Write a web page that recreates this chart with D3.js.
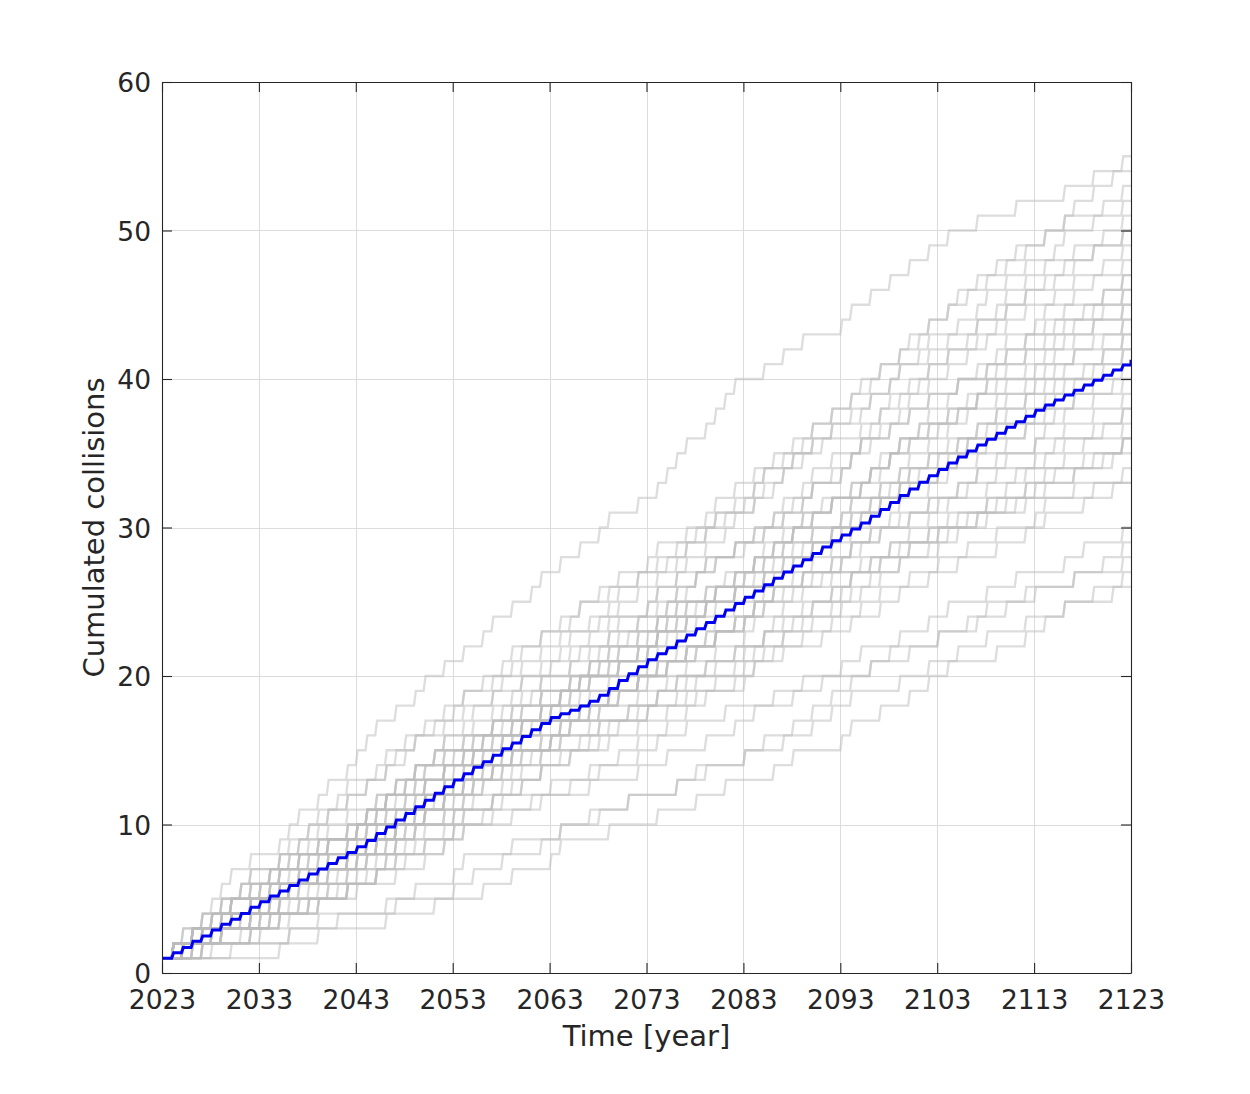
<!DOCTYPE html>
<html>
<head>
<meta charset="utf-8">
<script src="https://cdn.jsdelivr.net/npm/d3@7"></script>
<style>
  html, body { margin: 0; padding: 0; background: #ffffff; }
  svg { display: block; }
</style>
</head>
<body>
<svg id="chart" width="1250" height="1094"></svg>
<script>
// ---------------- DATA ----------------
const firstYear = 2023;
const lastYear = 2123;
const startCount = 1;
const xTickYears = [2023, 2033, 2043, 2053, 2063, 2073, 2083, 2093, 2103, 2113, 2123];
const yTickValues = [0, 10, 20, 30, 40, 50, 60];
const xLabel = "Time [year]";
const yLabel = "Cumulated collisions";

// Mean cumulated collisions, one value per year 2023..2123 (blue line)
const meanCollisions = [
  1.00, 1.36, 1.71, 2.13, 2.49, 2.90, 3.28, 3.62, 4.01, 4.42,
  4.80, 5.18, 5.52, 5.90, 6.27, 6.66, 7.00, 7.38, 7.76, 8.11,
  8.50, 8.92, 9.40, 9.83, 10.30, 10.74, 11.20, 11.63, 12.10, 12.55,
  13.00, 13.41, 13.85, 14.22, 14.66, 15.10, 15.48, 15.93, 16.38, 16.80,
  17.20, 17.45, 17.70, 17.98, 18.30, 18.70, 19.15, 19.70, 20.15, 20.62,
  21.10, 21.50, 21.90, 22.35, 22.76, 23.18, 23.60, 24.02, 24.45, 24.88,
  25.30, 25.72, 26.15, 26.58, 27.00, 27.40, 27.82, 28.25, 28.68, 29.10,
  29.50, 29.90, 30.30, 30.75, 31.22, 31.68, 32.15, 32.60, 33.05, 33.48,
  33.90, 34.35, 34.75, 35.15, 35.55, 35.95, 36.35, 36.75, 37.12, 37.50,
  37.90, 38.25, 38.58, 38.92, 39.25, 39.60, 39.92, 40.25, 40.60, 40.95,
  41.30
];

// Monte Carlo trials: collisions recorded in each year 2024..2123 (one char per year)
const trialHitsPerYear = [
  "1101111010 0111011011 1101011010 1011010110 1010110010 1111011110 0101010001 1010101010 1001000100 0010010010",
  "1100101010 1101011010 1011010110 1010110010 0110101001 1001011010 1010101010 1101011010 1100101010 1011010100",
  "0100101010 0101101010 0110110110 1101101010 1001011010 1010101010 1101011010 1011010110 1011010100 1010001010",
  "1011010110 0110110110 0110101001 1001011010 1010010010 0101011001 1100101010 0110110110 0101101010 0110010010",
  "0010100001 0110101001 1001011010 0111010110 0101011001 1011010110 1011010100 0101101010 1011011010 1001001010",
  "0110101001 0101010001 0111010110 0101011001 1100101010 1011010100 1101101010 1010110010 1001001010 0101010010",
  "1000010010 1010010010 0101011001 1100101010 1011010100 1101101010 1011011010 0111010110 1001011010 1010010010",
  "1010010010 0101011001 1100101010 0100101010 0101101010 1010110010 0110101001 1101011010 1010101010 0101001010",
  "0101011001 1001010010 1011010100 0101101010 0110010010 0110101001 1001011010 1010101010 0101011001 1001010010",
  "0010010001 0100101010 0101101010 1010110010 1001001010 1001011010 1010101010 0110110110 1100101010 0100101010",
  "0110110110 0101101010 1010110010 1001001010 0101010001 1010010010 0101011001 1100101010 0100101010 1010001010",
  "1010001001 0110010010 0110101001 0101010001 1010101010 0101001001 1100101010 1011010100 0101101010 0110010010",
  "0100000010 1001001010 1001011010 1010101010 0101011001 1100101010 1011010100 0101101010 1010110010 1001001010",
  "1001001010 1000010010 1010101010 0101011001 1001010010 1011010100 0101101010 1010110010 1001001010 0101010010",
  "1001011010 1010101010 0101001001 1001010010 0100101010 1010001001 1010110010 0110101001 0101010001 1010010010",
  "0100100010 0101001001 1100101010 0100101010 1010001001 1010110010 0110101001 1001011010 1010010010 0101001010",
  "0101001001 1100101010 0100101010 1010001001 0110010010 1001001010 0101010001 1010101010 0101011001 1001010010",
  "0001000010 0100010010 0101101010 1010110010 1001001010 1001011010 1010101010 0101011001 1001010010 0100101010",
  "1011010100 1010001001 1010110010 1001001010 0101010001 1010010010 0101001001 1001010010 0100101010 1010001010",
  "1000100100 0110010010 1001001010 0101010001 1010010010 0101001001 1100101010 1011010100 1010001001 0110010010",
  "0110010010 1001001010 1001011010 1010010010 0101001001 1001010010 0100101010 1010001001 0110010010 1001001010",
  "1001001010 1000010010 1010010010 0101001001 1001010010 0100101010 1010001001 1010110010 1001001010 0101010010",
  "1000010010 1010010010 0101001001 1001010010 0100101010 1010001001 0110010010 1001001010 0101010001 1010010010",
  "1010101010 0101001001 1001010010 0100101010 1010001001 0110010010 1001001010 0101010001 0100100010 1001000100",
  "1001000100 0010010001 1011010100 1010001001 0110010010 1001001010 0101010001 1010010010 0101001001 0010010010",
  "1001010010 0100101010 1010001001 0110010010 0001001010 0101010001 1010010010 0101001001 0010010001 0100010010",
  "1000010000 1000100100 0110010010 1001001010 0101010001 1010010010 0101001001 1001010010 0100101010 1010001010",
  "1010001001 0010100001 1001001010 0101010001 0100100010 0101001001 1001010010 0100101010 1000100100 0010100010",
  "0010100001 0001001010 0101010001 1010010010 1001000100 1001010010 0100101010 1010001001 0010100001 0001001010",
  "0110101001 0101010001 1010010010 1001000100 0010010001 0100101010 1000100100 0010100001 0001001010 1000010010",
  "0001000001 0100100010 0101001001 1001010010 0100101010 1010001001 0110010010 1001001010 1000010010 0100100010",
  "0100100010 1001000100 1001010010 0100101010 1000100100 0010100001 1001001010 0101010001 0100100010 1001000100",
  "0101001001 0010010001 0100101010 1000100100 0010100001 0001001010 0101010001 1010010010 1001000100 0001000010",
  "0001000010 0100010010 1010001001 0010100001 0001001010 0101010001 1010010010 0101001001 0010010001 1000010000",
  "0100010010 1010001001 0010100001 0001001010 1000010010 0100100010 1001000100 1001010010 0100010010 1000100100",
  "0000100100 0010100001 0001001010 1000010010 0100100010 1001000100 0010010001 0100010010 1000100100 0010100010",
  "0000001000 0010010000 0001000001 0100100010 1001000100 0010010001 0100101010 1010001001 0010100001 0001001010",
  "0010010000 1000010010 0100100010 1001000100 0001000010 0100010010 1000100100 0010100001 0001001010 0001000010",
  "0000000000 0100010000 0010000100 0010010001 1000010000 1000100100 0010100001 1001001010 1000010010 1010010010",
  "0001000000 0010000100 0010010001 1000010000 1000100100 0010100001 0001001010 1000010010 0100100010 0010000100"
];

// ---------------- CHART ----------------
const svg = d3.select("#chart");
const plot = { left: 162, right: 1131, top: 82, bottom: 973 };
const textColor = "#262626";
const fontFamily = "'DejaVu Sans', 'Liberation Sans', sans-serif";

const x = d3.scaleLinear().domain([firstYear, lastYear]).range([plot.left, plot.right]);
const y = d3.scaleLinear().domain([0, 60]).range([plot.bottom, plot.top]);

svg.append("rect").attr("width", 1250).attr("height", 1094).attr("fill", "#ffffff");

svg.append("defs").append("clipPath").attr("id", "plotclip")
  .append("rect")
  .attr("x", plot.left).attr("y", plot.top)
  .attr("width", plot.right - plot.left).attr("height", plot.bottom - plot.top);

// grid
const grid = svg.append("g").attr("class", "grid");
grid.selectAll("line.gx").data(xTickYears).join("line")
  .attr("x1", d => Math.round(x(d)) + 0.5).attr("x2", d => Math.round(x(d)) + 0.5)
  .attr("y1", plot.top).attr("y2", plot.bottom)
  .attr("stroke", "#dcdcdc").attr("stroke-width", 1);
grid.selectAll("line.gy").data(yTickValues).join("line")
  .attr("y1", d => Math.round(y(d)) + 0.5).attr("y2", d => Math.round(y(d)) + 0.5)
  .attr("x1", plot.left).attr("x2", plot.right)
  .attr("stroke", "#dcdcdc").attr("stroke-width", 1);

const riser = 0.2; // fraction of a year over which each step is drawn
const line = d3.line().x(d => x(d[0])).y(d => y(d[1]));

function trialPoints(str) {
  const s = str.replace(/ /g, "");
  let v = startCount;
  const pts = [[firstYear, v]];
  for (let i = 0; i < s.length; i++) {
    const k = +s[i];
    if (k > 0) {
      const t = firstYear + 1 + i;
      pts.push([t, v]);
      v += k;
      pts.push([t + riser, v]);
    }
  }
  if (pts[pts.length - 1][0] < lastYear) pts.push([lastYear, v]);
  return pts;
}

const lines = svg.append("g").attr("clip-path", "url(#plotclip)");
lines.selectAll("path.trial").data(trialHitsPerYear).join("path")
  .attr("class", "trial")
  .attr("d", d => line(trialPoints(d)))
  .attr("fill", "none")
  .attr("stroke", "#bcbcbc")
  .attr("stroke-opacity", 0.5)
  .attr("stroke-width", 2.3);

function meanPoints(vals) {
  const pts = [[firstYear, vals[0]]];
  for (let j = 1; j < vals.length; j++) {
    const t = firstYear + j;
    pts.push([t, vals[j - 1]]);
    pts.push([Math.min(t + riser, lastYear), vals[j]]);
  }
  return pts;
}

lines.append("path")
  .attr("d", line(meanPoints(meanCollisions)))
  .attr("fill", "none")
  .attr("stroke", "#0000f0")
  .attr("stroke-width", 3)
  .attr("stroke-linejoin", "miter");

// axes (box with inward ticks)
function styleAxis(g) {
  g.selectAll("path.domain").attr("stroke", textColor).attr("stroke-width", 1.1);
  g.selectAll(".tick line").attr("stroke", textColor).attr("stroke-width", 1.1);
  g.selectAll("text").attr("fill", textColor).attr("font-family", fontFamily).attr("font-size", 26.5);
}

svg.append("g").attr("transform", `translate(0,${plot.bottom})`)
  .call(d3.axisBottom(x).tickValues(xTickYears).tickFormat(d3.format("d")).tickSize(-10).tickSizeOuter(0))
  .call(styleAxis)
  .call(g => g.selectAll("text").attr("dy", null).attr("y", 36));

svg.append("g").attr("transform", `translate(0,${plot.top})`)
  .call(d3.axisTop(x).tickValues(xTickYears).tickFormat("").tickSize(-10).tickSizeOuter(0))
  .call(styleAxis);

svg.append("g").attr("transform", `translate(${plot.left},0)`)
  .call(d3.axisLeft(y).tickValues(yTickValues).tickFormat(d3.format("d")).tickSize(-10).tickSizeOuter(0).tickPadding(11))
  .call(styleAxis)
  .call(g => g.selectAll("text").attr("dy", "0.36em"));

svg.append("g").attr("transform", `translate(${plot.right},0)`)
  .call(d3.axisRight(y).tickValues(yTickValues).tickFormat("").tickSize(-10).tickSizeOuter(0))
  .call(styleAxis);

// labels
svg.append("text")
  .attr("x", (plot.left + plot.right) / 2).attr("y", 1046)
  .attr("text-anchor", "middle")
  .attr("fill", textColor).attr("font-family", fontFamily).attr("font-size", 29)
  .text(xLabel);

svg.append("text")
  .attr("transform", `translate(104,${(plot.top + plot.bottom) / 2}) rotate(-90)`)
  .attr("text-anchor", "middle")
  .attr("fill", textColor).attr("font-family", fontFamily).attr("font-size", 29)
  .text(yLabel);
</script>
</body>
</html>
